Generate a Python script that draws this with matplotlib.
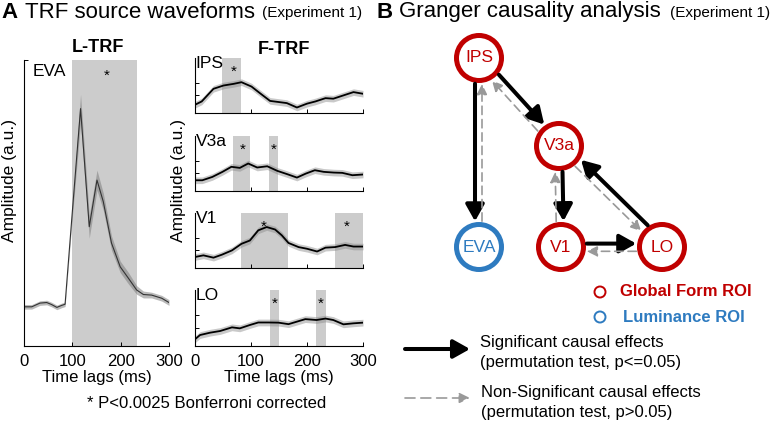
import numpy as np
import matplotlib
matplotlib.use('Agg')
import matplotlib.pyplot as plt
from matplotlib.patches import Circle, FancyArrowPatch
from matplotlib.transforms import blended_transform_factory, offset_copy

plt.rcParams['font.family'] = ['Liberation Sans', 'DejaVu Sans']

W, H = 780, 421

# ---------------- data ----------------
eva_t = [0, 16, 33, 47, 57, 68, 78, 85, 100, 117, 135, 151, 164, 181, 199, 216, 233, 247, 264, 285, 300]
eva_y = [0.137, 0.137, 0.15, 0.152, 0.145, 0.135, 0.142, 0.146, 0.47, 0.83, 0.417, 0.58, 0.505,
         0.36, 0.277, 0.237, 0.196, 0.18, 0.178, 0.167, 0.152]
eva_err = [0.008, 0.008, 0.008, 0.008, 0.008, 0.008, 0.008, 0.008, 0.02, 0.05, 0.04, 0.035, 0.03,
           0.025, 0.02, 0.02, 0.015, 0.012, 0.01, 0.01, 0.01]
eva_sig = [(100, 233)]
eva_stars = [171]

ips_t = [0, 12, 33, 51, 69, 83, 101, 116, 134, 149, 164, 182, 200, 215, 233, 247, 265, 283, 300]
ips_y = [0.15, 0.21, 0.44, 0.50, 0.53, 0.56, 0.48, 0.36, 0.22, 0.20, 0.18, 0.10, 0.17, 0.21, 0.27,
         0.26, 0.32, 0.38, 0.35]
v3a_t = [0, 13, 31, 49, 65, 80, 95, 111, 129, 147, 165, 182, 198, 214, 230, 248, 263, 281, 300]
v3a_y = [0.195, 0.195, 0.256, 0.348, 0.44, 0.42, 0.50, 0.427, 0.45, 0.366, 0.305, 0.244, 0.317,
         0.378, 0.348, 0.335, 0.33, 0.287, 0.30]
v1_t = [0, 15, 33, 48, 66, 83, 98, 113, 128, 143, 155, 167, 185, 200, 218, 233, 250, 268, 283, 300]
v1_y = [0.2, 0.23, 0.188, 0.242, 0.32, 0.44, 0.50, 0.685, 0.745, 0.70, 0.594, 0.455, 0.38, 0.35,
        0.30, 0.37, 0.38, 0.42, 0.39, 0.39]
lo_t = [0, 9, 27, 45, 66, 80, 98, 113, 131, 149, 167, 182, 197, 217, 233, 247, 265, 283, 300]
lo_y = [0.12, 0.196, 0.238, 0.268, 0.333, 0.315, 0.375, 0.42, 0.42, 0.417, 0.39, 0.435, 0.48,
        0.464, 0.49, 0.464, 0.387, 0.405, 0.417]
ftrf_err = 0.06

ftrf_names = ['IPS', 'V3a', 'V1', 'LO']
ftrf_t = [ips_t, v3a_t, v1_t, lo_t]
ftrf_y = [ips_y, v3a_y, v1_y, lo_y]
ftrf_sig = [[(49, 82)], [(67, 99), (133, 149)], [(83, 166), (250, 300)], [(134, 150), (216, 234)]]
ftrf_stars = [[70], [85, 141], [123, 271], [142, 225]]

xticks = [0, 100, 200, 300]

# Granger graph
node_names = ['IPS', 'V3a', 'EVA', 'V1', 'LO']
node_kind = ['form', 'form', 'lum', 'form', 'form']
# edges: (source, target, significant)
edges = [('IPS', 'EVA', True), ('EVA', 'IPS', False),
         ('IPS', 'V3a', True), ('V3a', 'IPS', False),
         ('V3a', 'V1', True), ('V1', 'V3a', False),
         ('LO', 'V3a', True), ('V3a', 'LO', False),
         ('V1', 'LO', True), ('LO', 'V1', False)]

# ---------------- layout ----------------
RED = '#c00000'
BLUE = '#2e7bc0'
node_pos = {'IPS': (479, 58), 'V3a': (559, 146), 'EVA': (479, 247), 'V1': (561, 247), 'LO': (662, 247)}
edge_off = {('IPS', 'EVA'): 4, ('EVA', 'IPS'): 3, ('IPS', 'V3a'): -3.5, ('V3a', 'IPS'): -5.6,
            ('V3a', 'V1'): -3, ('V1', 'V3a'): -4.3, ('LO', 'V3a'): 5.5, ('V3a', 'LO'): 3.2,
            ('V1', 'LO'): -3.4, ('LO', 'V1'): -4.3}
FS = 12

fig = plt.figure(figsize=(W / 100, H / 100), dpi=100)


def add_ax(l, t, r, b):
    return fig.add_axes([l / W, 1 - b / H, (r - l) / W, (b - t) / H])


def style_ax(ax, labels):
    for s in ['top', 'right']:
        ax.spines[s].set_visible(False)
    for s in ['left', 'bottom']:
        ax.spines[s].set_linewidth(0.8)
    ax.set_xlim(0, 300)
    ax.set_ylim(0, 1)
    ax.set_xticks(xticks)
    ax.tick_params(direction='in', length=3, width=0.7, labelsize=FS, pad=6)
    if not labels:
        ax.set_xticklabels([])
    ax.patch.set_alpha(0)


def star(ax, x, yf):
    tr = blended_transform_factory(ax.transData, ax.transAxes)
    ax.text(x, yf, '*', transform=offset_copy(tr, fig=fig, x=0, y=-4, units='dots'),
            ha='center', va='center', fontsize=11)


# EVA panel
ax = add_ax(24, 60, 169, 346)
style_ax(ax, True)
ax.set_yticks([1.0])
ax.set_yticklabels([])
for a, b in eva_sig:
    ax.axvspan(a, b, color='#cccccc', lw=0, zorder=0)
e = np.array(eva_err)
yv = np.array(eva_y)
ax.fill_between(eva_t, yv - e, yv + e, color='#777777', alpha=0.5, lw=0, zorder=1)
ax.plot(eva_t, eva_y, color='#333333', lw=0.8, zorder=2)
for s in eva_stars:
    star(ax, s, 0.96)
ax.text(0.06, 0.96, 'EVA', transform=ax.transAxes, fontsize=12.5, ha='left', va='center')
ax.set_xlabel('Time lags (ms)', fontsize=FS, labelpad=0.5)

# F-TRF panels
tops = [58, 136, 213, 290]
for i, name in enumerate(ftrf_names):
    t0 = tops[i]
    ax = add_ax(195, t0, 363, t0 + 55 if i < 3 else 346)
    style_ax(ax, i == 3)
    ax.set_yticks([0.33, 0.545])
    ax.set_yticklabels([])
    for a, b in ftrf_sig[i]:
        ax.axvspan(a, b, color='#cccccc', lw=0, zorder=0)
    yv = np.array(ftrf_y[i])
    ax.fill_between(ftrf_t[i], yv - ftrf_err, yv + ftrf_err, color='#888888', alpha=0.45, lw=0, zorder=1)
    ax.plot(ftrf_t[i], yv, color='black', lw=1.3, zorder=2)
    for s in ftrf_stars[i]:
        star(ax, s, 0.82)
    ax.text(0.005, 0.9, name, transform=ax.transAxes, fontsize=12.5, ha='left', va='center')
    if i == 3:
        ax.set_xlabel('Time lags (ms)', fontsize=FS, labelpad=0.5)

# overlay for text and diagram
ov = fig.add_axes([0, 0, 1, 1])
ov.set_xlim(0, W)
ov.set_ylim(H, 0)
ov.axis('off')
ov.patch.set_alpha(0)

ov.text(1, 12, 'A', fontsize=16, fontweight='bold', ha='left', va='center')
ov.text(25, 12, 'TRF source waveforms', fontsize=16, ha='left', va='center')
ov.text(262, 13, '(Experiment 1)', fontsize=11, ha='left', va='center')
ov.text(376, 12, 'B', fontsize=16, fontweight='bold', ha='left', va='center')
ov.text(399, 12, 'Granger causality analysis', fontsize=16, ha='left', va='center')
ov.text(670, 13, '(Experiment 1)', fontsize=11, ha='left', va='center')

ov.text(98, 48, 'L-TRF', fontsize=13, fontweight='bold', ha='center', va='center')
ov.text(284, 50, 'F-TRF', fontsize=13, fontweight='bold', ha='center', va='center')
ov.text(10, 180, 'Amplitude (a.u.)', fontsize=12.5, rotation=90, ha='center', va='center')
ov.text(178, 181, 'Amplitude (a.u.)', fontsize=12.5, rotation=90, ha='center', va='center')
ov.text(207, 403, '* P<0.0025 Bonferroni corrected', fontsize=FS, ha='center', va='center')

# nodes
for n, k in zip(node_names, node_kind):
    c = RED if k == 'form' else BLUE
    x, y = node_pos[n]
    ov.add_patch(Circle((x, y), 22.5, facecolor='white', edgecolor=c, lw=3.6, zorder=3))
    ov.text(x, y, n, color=c, fontsize=12.5, ha='center', va='center', zorder=4)

R = 26
for s, d, sig in edges:
    p0 = np.array(node_pos[s], float)
    p1 = np.array(node_pos[d], float)
    u = (p1 - p0) / np.linalg.norm(p1 - p0)
    nv = np.array([-u[1], u[0]])
    off = edge_off[(s, d)]
    along = np.sqrt(R ** 2 - off ** 2)
    a = p0 + nv * off + u * along
    b = p1 + nv * off - u * along
    if sig:
        ar = FancyArrowPatch(a, b, arrowstyle='-|>,head_length=0.5,head_width=0.28',
                             mutation_scale=20, color='black', lw=2.9, shrinkA=0, shrinkB=0, zorder=5)
    else:
        ar = FancyArrowPatch(a, b, arrowstyle='-|>,head_length=0.45,head_width=0.22',
                             mutation_scale=14, color='#999999', lw=1.2, linestyle=(0, (5, 3)),
                             shrinkA=0, shrinkB=0, zorder=5)
    ov.add_patch(ar)

# legend
ov.add_patch(Circle((600, 292), 5.5, facecolor='none', edgecolor=RED, lw=1.4))
ov.text(620, 292, 'Global Form ROI', color=RED, fontsize=FS, fontweight='bold', ha='left', va='center')
ov.add_patch(Circle((600, 317), 5.5, facecolor='none', edgecolor=BLUE, lw=1.4))
ov.text(623, 317, 'Luminance ROI', color=BLUE, fontsize=FS, fontweight='bold', ha='left', va='center')

ov.add_patch(FancyArrowPatch((405, 349), (470, 349), arrowstyle='-|>,head_length=0.5,head_width=0.28',
                             mutation_scale=20, color='black', lw=2.9, shrinkA=0, shrinkB=0))
ov.text(480, 343, 'Significant causal effects', fontsize=FS, ha='left', va='center')
ov.text(480, 363, '(permutation test, p<=0.05)', fontsize=FS, ha='left', va='center')
ov.add_patch(FancyArrowPatch((405, 398), (470, 398), arrowstyle='-|>,head_length=0.45,head_width=0.22',
                             mutation_scale=14, color='#999999', lw=1.2, linestyle=(0, (6, 3.5)),
                             shrinkA=0, shrinkB=0))
ov.text(481, 392, 'Non-Significant causal effects', fontsize=FS, ha='left', va='center')
ov.text(481, 412, '(permutation test, p>0.05)', fontsize=FS, ha='left', va='center')

fig.savefig('out.png', dpi=100)
